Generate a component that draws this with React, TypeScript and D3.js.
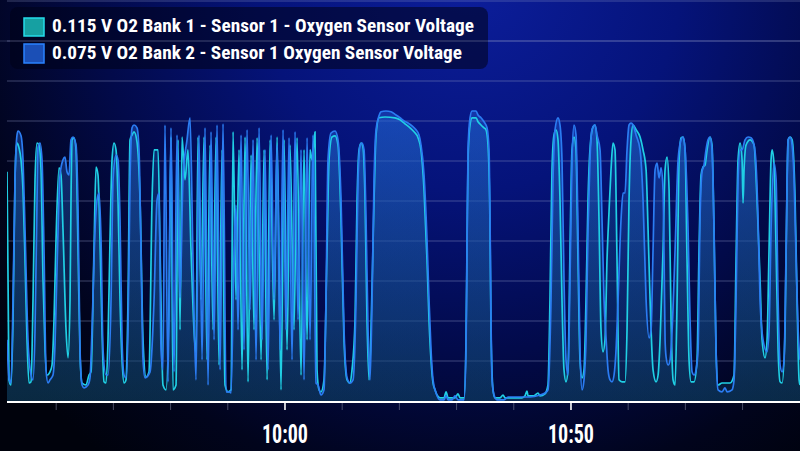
import React from "react"
import * as d3 from "d3"

const width = 800
const height = 451
const plot = {left: 7, right: 800, top: 1, bottom: 401}

const legendLabels = [
    "0.115 V O2 Bank 1 - Sensor 1 - Oxygen Sensor Voltage",
    "0.075 V O2 Bank 2 - Sensor 1 Oxygen Sensor Voltage",
]

// time axis: minutes after 9:00
const startMinute = 11.4
const endMinute = 150.04
const labelTicks = ["10:00", "10:50"]
const gridVolts = [0.1, 0.2, 0.3, 0.4, 0.5, 0.6, 0.7, 0.8, 0.9, 1.0]

// Bank 1 - Sensor 1 (cyan)
const bank1Minutes = [
    11.40, 11.75, 12.10, 12.45, 12.80, 12.98, 13.15, 13.50, 13.85, 14.20, 14.55, 14.90, 15.25, 15.60, 15.95, 16.30,
    16.65, 17.00, 17.35, 17.70, 18.05, 18.40, 18.92, 19.27, 19.62, 19.97, 20.49, 20.84, 21.19, 21.72, 22.07, 22.42,
    22.59, 22.77, 23.12, 23.47, 23.82, 24.17, 24.52, 25.21, 25.74, 26.09, 26.61, 26.96, 27.31, 27.66, 28.01, 28.36,
    28.71, 29.06, 29.41, 29.76, 30.11, 30.46, 30.81, 31.16, 31.51, 31.86, 32.21, 32.56, 32.91, 33.26, 33.61, 34.13,
    34.66, 35.18, 35.71, 36.23, 36.76, 37.11, 37.81,
    38.16, 38.67, 39.20, 39.73, 40.07, 40.42, 40.95, 41.30, 41.65, 42.00, 42.52, 43.04, 43.57, 44.44, 44.79, 45.32,
    45.85, 46.37, 46.90, 47.42, 47.95, 48.47, 49.00, 49.52, 50.04, 50.57, 50.92, 51.44, 51.97, 52.49, 53.02, 53.54,
    54.07, 54.59, 55.12, 55.82, 56.34, 56.87, 57.39, 58.09, 58.62, 59.31, 59.84, 60.36, 60.88, 61.58, 62.11, 62.81,
    63.33, 63.86, 64.38, 64.73, 65.25, 65.60, 65.95, 66.30,
    66.82, 67.35, 67.70, 68.22, 68.75, 69.27, 69.80, 70.32, 70.85, 71.37, 71.72, 72.25, 72.60, 72.95, 73.30, 73.65,
    74.00, 74.34, 74.69, 75.04, 75.57, 75.92, 76.44, 77.49, 79.24, 80.11, 80.98, 81.86, 82.56, 83.26, 83.78, 84.31,
    84.83, 85.18, 85.53, 85.88, 86.23, 86.58, 87.11, 87.81, 88.16, 88.51, 89.73, 90.25, 90.60, 91.30, 91.65, 91.83,
    92.00, 92.35, 92.70, 93.40, 93.75, 94.27, 94.80, 95.15, 95.50, 95.85, 96.02, 96.37, 96.72, 97.59, 98.12, 98.47,
    101.44, 101.96, 102.31, 102.49, 103.53, 104.23, 104.58, 105.46, 105.98, 106.33, 106.68, 107.03, 107.38, 107.73, 108.08, 108.43,
    108.78, 109.13, 109.48, 109.83, 110.18, 110.53, 110.88, 111.23, 111.58, 111.93, 112.28, 112.63, 112.98, 113.32, 113.85, 114.20,
    114.55, 114.90, 115.25, 115.60, 115.95, 116.30, 116.65, 117.00, 117.35, 117.70, 118.05, 118.40, 118.93, 119.45, 119.80, 120.15,
    120.50, 120.85, 121.38, 122.08, 122.60, 123.13, 123.48, 123.83, 124.35, 124.88, 125.23, 125.58, 126.10, 126.45, 126.80, 127.15,
    127.50, 127.85, 128.20, 128.55, 128.90, 129.25, 129.60, 129.95, 130.29, 130.64, 130.99, 131.52, 132.04, 132.39, 132.74, 133.09,
    133.44, 133.79, 134.31, 134.66, 135.01, 135.36, 135.71, 136.41, 137.11, 137.81, 138.51, 138.86, 139.21, 139.56, 139.91, 140.08,
    140.26, 140.61, 141.31, 142.01, 142.53, 143.06, 143.41, 143.93, 144.28, 144.63, 144.98, 145.16, 145.51, 145.86, 146.21, 146.56,
    146.91, 147.43, 147.78, 147.96, 148.31, 148.66, 149.18, 149.53, 149.88, 150.04,
]
const bank1Volts = [
    0.573, 0.053, 0.040, 0.203, 0.553, 0.628, 0.645, 0.633, 0.603, 0.528, 0.353, 0.153, 0.045, 0.048, 0.253, 0.553,
    0.645, 0.640, 0.578, 0.303, 0.128, 0.065, 0.073, 0.090, 0.203, 0.403, 0.583, 0.565, 0.428, 0.178, 0.108, 0.253,
    0.503, 0.653, 0.658, 0.628, 0.378, 0.115, 0.045, 0.040, 0.065, 0.073, 0.378, 0.585, 0.565, 0.403, 0.178, 0.048,
    0.045, 0.153, 0.403, 0.603, 0.645, 0.628, 0.503, 0.253, 0.103, 0.045, 0.053, 0.253, 0.653, 0.665, 0.673, 0.648,
    0.503, 0.153, 0.060, 0.073, 0.503, 0.628, 0.628,
    0.378, 0.040, 0.028, 0.253, 0.660, 0.028, 0.040, 0.653, 0.178, 0.660, 0.553, 0.628, 0.378, 0.120, 0.660, 0.253,
    0.660, 0.103, 0.640, 0.178, 0.660, 0.090, 0.628, 0.040, 0.023, 0.028, 0.673, 0.253, 0.628, 0.078, 0.660, 0.048,
    0.615, 0.178, 0.658, 0.103, 0.628, 0.053, 0.653, 0.203, 0.660, 0.028, 0.653, 0.128, 0.640, 0.178, 0.658, 0.065,
    0.628, 0.153, 0.628, 0.603, 0.673, 0.078, 0.028, 0.023,
    0.053, 0.378, 0.603, 0.660, 0.663, 0.640, 0.453, 0.153, 0.053, 0.045, 0.078, 0.203, 0.503, 0.628, 0.645, 0.633,
    0.503, 0.203, 0.053, 0.178, 0.503, 0.665, 0.708, 0.710, 0.708, 0.703, 0.693, 0.683, 0.673, 0.658, 0.628, 0.528,
    0.353, 0.203, 0.103, 0.045, 0.028, 0.015, 0.008, 0.008, 0.023, 0.008, 0.008, 0.018, 0.008, 0.008, 0.153, 0.403,
    0.603, 0.690, 0.708, 0.708, 0.698, 0.690, 0.683, 0.678, 0.640, 0.428, 0.178, 0.028, 0.008, 0.008, 0.015, 0.008,
    0.008, 0.013, 0.025, 0.013, 0.013, 0.020, 0.013, 0.018, 0.040, 0.253, 0.578, 0.665, 0.678, 0.653, 0.503, 0.253,
    0.078, 0.048, 0.078, 0.378, 0.628, 0.660, 0.628, 0.353, 0.103, 0.058, 0.078, 0.253, 0.503, 0.628, 0.685, 0.690,
    0.653, 0.453, 0.178, 0.123, 0.153, 0.353, 0.473, 0.578, 0.645, 0.628, 0.353, 0.053, 0.048, 0.048, 0.178, 0.503,
    0.653, 0.690, 0.678, 0.660, 0.628, 0.578, 0.428, 0.253, 0.078, 0.048, 0.065, 0.153, 0.378, 0.578, 0.610, 0.528,
    0.203, 0.053, 0.040, 0.253, 0.603, 0.658, 0.660, 0.628, 0.353, 0.103, 0.048, 0.048, 0.103, 0.378, 0.565, 0.585,
    0.590, 0.628, 0.660, 0.640, 0.428, 0.128, 0.040, 0.045, 0.045, 0.045, 0.065, 0.353, 0.603, 0.645, 0.603, 0.495,
    0.578, 0.640, 0.653, 0.640, 0.503, 0.303, 0.153, 0.108, 0.153, 0.378, 0.603, 0.628, 0.590, 0.378, 0.128, 0.048,
    0.045, 0.178, 0.553, 0.653, 0.660, 0.653, 0.503, 0.253, 0.053, 0.040,
]

// Bank 2 - Sensor 1 (blue)
const bank2Minutes = [
    11.40, 11.75, 12.10, 12.45, 12.80, 13.15, 13.33, 13.85, 14.20, 14.55, 15.07, 15.60, 15.95, 16.30, 16.65, 16.82,
    17.17, 17.52, 17.87, 18.22, 18.57, 18.92, 19.44, 19.79, 20.14, 20.67, 21.19, 21.54, 21.89, 22.24, 22.59, 22.94,
    23.47, 23.82, 24.17, 24.52, 24.87, 25.56, 25.91, 26.26, 26.79, 27.14, 27.49, 27.84, 28.19, 28.71, 29.06, 29.59,
    29.94, 30.46, 30.81, 31.16, 31.51, 31.86, 32.21, 32.56, 32.91, 33.26, 33.61, 34.13, 34.48, 34.83, 35.18, 35.53,
    36.41, 37.11, 37.63,
    37.98, 38.33, 38.67, 39.02, 39.55, 40.07, 40.60, 41.12, 41.65, 42.17, 42.87, 43.40, 43.92, 44.44, 44.97, 45.50,
    46.02, 46.55, 47.07, 47.60, 48.12, 48.65, 49.17, 49.70, 50.22, 50.57, 51.10, 51.44, 51.79, 52.32, 52.84, 53.37,
    53.89, 54.42, 54.94, 55.47, 55.99, 56.52, 57.04, 57.57, 58.09, 58.62, 59.14, 59.66, 60.18, 60.71, 61.23, 61.76,
    62.28, 62.81, 63.33, 63.86, 64.38, 64.90, 65.43, 65.78, 66.30,
    66.82, 67.17, 67.52, 68.05, 68.75,
    69.27, 69.80, 70.32, 70.85, 71.37, 71.90, 72.42, 72.77, 73.12, 73.47, 73.82, 74.17, 74.52, 74.87, 75.22, 75.57,
    75.92, 76.44, 76.79, 77.66, 78.54, 79.41, 80.11, 80.81, 81.51, 82.21, 82.91, 83.43, 83.78, 84.31, 84.83, 85.18,
    85.53, 85.88, 86.41, 87.11, 87.81, 88.16, 88.51, 89.21, 89.73, 90.25, 91.30, 91.65, 91.83, 92.00, 92.35, 92.70,
    93.40, 93.75, 94.27, 94.80, 95.32, 95.67, 95.85, 96.02, 96.20, 96.55, 97.07, 98.29, 98.99, 102.84, 104.58, 105.46,
    105.98, 106.51, 106.86, 107.21, 107.73, 108.08, 108.43, 108.78, 109.13, 109.48, 109.83, 110.18, 110.53, 110.88, 111.23, 111.58,
    111.93, 112.28, 112.63, 112.98, 113.32, 113.67, 114.20, 114.55, 115.08, 115.43, 115.78, 116.13, 116.48, 116.83, 117.18, 117.53,
    117.88, 118.23, 118.75, 119.10, 119.45, 119.80, 120.15, 120.50, 120.85, 121.38, 122.08, 122.60, 123.13, 123.65, 124.00, 124.35,
    124.70, 125.05, 125.40, 125.75, 126.10, 126.28, 126.45, 126.63, 126.98, 127.33, 127.68, 128.20, 128.73, 129.25, 129.60, 129.95,
    130.47, 130.82, 131.17, 131.52, 131.87, 132.22, 132.56, 132.91, 133.26, 133.61, 133.96, 134.31, 134.66, 135.01, 135.36, 135.71,
    136.41, 136.93, 137.28, 138.16, 138.51, 138.86, 139.21, 139.56, 139.91, 140.43, 140.96, 141.48, 142.01, 142.36, 142.71, 143.06,
    143.58, 144.28, 144.63, 144.98, 145.51, 145.86, 146.21, 146.56, 146.91, 147.26, 147.61, 147.96, 148.31, 148.66, 149.01, 149.36,
    149.71, 150.04,
]
const bank2Volts = [
    0.153, 0.058, 0.045, 0.253, 0.553, 0.665, 0.675, 0.663, 0.603, 0.428, 0.153, 0.065, 0.053, 0.178, 0.503, 0.633,
    0.645, 0.603, 0.378, 0.078, 0.045, 0.053, 0.065, 0.140, 0.328, 0.565, 0.603, 0.610, 0.573, 0.565, 0.653, 0.660,
    0.640, 0.478, 0.128, 0.040, 0.033, 0.040, 0.058, 0.178, 0.428, 0.503, 0.520, 0.403, 0.128, 0.065, 0.065, 0.253,
    0.553, 0.615, 0.603, 0.453, 0.153, 0.065, 0.058, 0.178, 0.553, 0.683, 0.690, 0.683, 0.628, 0.378, 0.103, 0.058,
    0.073, 0.253, 0.503,
    0.520, 0.128, 0.078, 0.690, 0.048, 0.683, 0.073, 0.665, 0.258, 0.560, 0.653, 0.708, 0.353, 0.053, 0.665, 0.103,
    0.683, 0.040, 0.673, 0.153, 0.690, 0.078, 0.693, 0.023, 0.023, 0.020, 0.378, 0.490, 0.178, 0.665, 0.128, 0.678,
    0.228, 0.653, 0.103, 0.683, 0.153, 0.628, 0.078, 0.665, 0.253, 0.640, 0.128, 0.678, 0.178, 0.658, 0.103, 0.673,
    0.203, 0.628, 0.053, 0.658, 0.153, 0.665, 0.045, 0.040, 0.015,
    0.028, 0.253, 0.603, 0.670, 0.675,
    0.653, 0.503, 0.178, 0.058, 0.045, 0.053, 0.253, 0.553, 0.638, 0.645, 0.628, 0.453, 0.178, 0.053, 0.253, 0.553,
    0.678, 0.713, 0.723, 0.725, 0.723, 0.715, 0.708, 0.700, 0.695, 0.688, 0.678, 0.665, 0.640, 0.565, 0.403, 0.253,
    0.128, 0.053, 0.020, 0.003, 0.003, 0.013, 0.003, 0.003, 0.013, 0.003, 0.003, 0.128, 0.378, 0.628, 0.708, 0.725,
    0.725, 0.715, 0.708, 0.698, 0.683, 0.628, 0.453, 0.203, 0.053, 0.015, 0.003, 0.003, 0.010, 0.010, 0.015, 0.020,
    0.028, 0.253, 0.553, 0.678, 0.708, 0.690, 0.603, 0.303, 0.103, 0.065, 0.303, 0.603, 0.690, 0.665, 0.428, 0.128,
    0.028, 0.053, 0.153, 0.428, 0.603, 0.678, 0.690, 0.665, 0.628, 0.453, 0.253, 0.158, 0.078, 0.053, 0.048, 0.065,
    0.128, 0.253, 0.453, 0.520, 0.520, 0.628, 0.690, 0.695, 0.690, 0.665, 0.628, 0.503, 0.253, 0.158, 0.178, 0.378,
    0.578, 0.595, 0.558, 0.583, 0.528, 0.353, 0.153, 0.110, 0.090, 0.103, 0.178, 0.378, 0.603, 0.653, 0.660, 0.628,
    0.428, 0.203, 0.073, 0.065, 0.078, 0.128, 0.453, 0.573, 0.590, 0.628, 0.653, 0.660, 0.628, 0.428, 0.128, 0.028,
    0.023, 0.033, 0.023, 0.028, 0.053, 0.253, 0.553, 0.628, 0.628, 0.653, 0.660, 0.658, 0.640, 0.590, 0.453, 0.253,
    0.153, 0.123, 0.178, 0.428, 0.595, 0.553, 0.253, 0.090, 0.073, 0.103, 0.378, 0.653, 0.660, 0.640, 0.553, 0.353,
    0.178, 0.103,
]

const baseDate = (minutes: number) => new Date(2020, 0, 1, 9, 0, 0, Math.round(minutes * 60000))
const parseClock = (s: string) => {
    const [h, m] = s.split(":").map(Number)
    return new Date(2020, 0, 1, h, m)
}

type Pt = {t: Date, v: number}
const toPoints = (mins: number[], volts: number[]): Pt[] =>
    mins.map((m, i) => ({t: baseDate(m), v: volts[i]}))

// bank 1 is painted first, bank 2 sits on top
const series = [
    {key: "b1", points: toPoints(bank1Minutes, bank1Volts), stroke: "#20cfe4", fillTop: "rgba(26,118,205,0.3)", fillBottom: "rgba(16,80,110,0.3)"},
    {key: "b2", points: toPoints(bank2Minutes, bank2Volts), stroke: "#2b7cf2", fillTop: "rgba(38,98,220,0.42)", fillBottom: "rgba(18,70,110,0.35)"},
]

const App = () => {
    const x = d3.scaleTime()
        .domain([baseDate(startMinute), baseDate(endMinute)])
        .range([plot.left, plot.right])
    const y = d3.scaleLinear().domain([0, 1]).range([plot.bottom, plot.top])

    const line = d3.line<Pt>().x(d => x(d.t)).y(d => y(d.v)).curve(d3.curveMonotoneX)
    const area = d3.area<Pt>().x(d => x(d.t)).y0(y(0)).y1(d => y(d.v)).curve(d3.curveMonotoneX)

    const minorTicks = x.ticks(d3.timeMinute.every(10)!).filter(t => x(t) < plot.right - 4)
    const majorTicks = labelTicks.map(parseClock)
    const font = "'Liberation Sans Narrow', 'Roboto Condensed', 'Arial Narrow', sans-serif"

    return (
        <svg width={width} height={height} viewBox={`0 0 ${width} ${height}`}
             style={{position: "absolute", left: 0, top: 0, display: "block"}}>
            <defs>
                <radialGradient id="bg" cx="470" cy="-20" r="600" gradientUnits="userSpaceOnUse">
                    <stop offset="0" stopColor="#0c1e9c"/>
                    <stop offset="0.35" stopColor="#05137a"/>
                    <stop offset="0.62" stopColor="#020a4a"/>
                    <stop offset="0.85" stopColor="#01041c"/>
                    <stop offset="1" stopColor="#00020c"/>
                </radialGradient>
                {series.map(s => (
                    <linearGradient key={s.key} id={`fill-${s.key}`} x1="0" y1="110" x2="0" y2={plot.bottom}
                                    gradientUnits="userSpaceOnUse">
                        <stop offset="0" stopColor={s.fillTop}/>
                        <stop offset="1" stopColor={s.fillBottom}/>
                    </linearGradient>
                ))}
                <clipPath id="plotClip">
                    <rect x={plot.left} y={0} width={plot.right - plot.left} height={plot.bottom}/>
                </clipPath>
            </defs>

            <rect width={width} height={height} fill="url(#bg)"/>

            {/* horizontal grid */}
            {gridVolts.map(v => (
                <line key={v} x1={plot.left} x2={plot.right} y1={y(v)} y2={y(v)}
                      stroke="rgba(150,160,200,0.28)" strokeWidth={1.4}/>
            ))}

            <g clipPath="url(#plotClip)">
                {series.map(s => (
                    <path key={s.key} d={area(s.points) ?? ""} fill={`url(#fill-${s.key})`}/>
                ))}
                {series.map(s => (
                    <path key={s.key} d={line(s.points) ?? ""} fill="none" stroke={s.stroke}
                          strokeWidth={1.7} strokeLinejoin="round"/>
                ))}
            </g>

            {/* x axis */}
            <line x1={plot.left} x2={plot.right} y1={plot.bottom + 1} y2={plot.bottom + 1} stroke="#ffffff" strokeWidth={2}/>
            {minorTicks.map(t => (
                <line key={+t} x1={x(t)} x2={x(t)} y1={plot.bottom + 2} y2={plot.bottom + 9}
                      stroke="rgba(120,125,150,0.6)" strokeWidth={1}/>
            ))}
            {majorTicks.map((t, i) => (
                <g key={i}>
                    <line x1={x(t)} x2={x(t)} y1={plot.bottom + 2} y2={plot.bottom + 9} stroke="#ffffff" strokeWidth={1.5}/>
                    <text x={x(t)} y={443} textAnchor="middle" fill="#ffffff" fontSize={25} fontWeight="bold"
                          fontFamily={font} textLength={46} lengthAdjust="spacingAndGlyphs">{labelTicks[i]}</text>
                </g>
            ))}

            {/* legend */}
            <rect x={10} y={7} width={478} height={62} rx={8} fill="rgba(0,2,24,0.55)"/>
            <line x1={0} x2={plot.right} y1={y(0.9)} y2={y(0.9)} stroke="rgba(150,160,200,0.28)" strokeWidth={1.2}/>
            <rect x={24} y={18} width={20} height={18} fill="#16a0a2" stroke="#25dcea" strokeWidth={1.5}/>
            <rect x={24} y={44} width={20} height={19} fill="#1b4fb6" stroke="#2a82ff" strokeWidth={1.5}/>
            {legendLabels.map((label, i) => (
                <text key={label} x={52} y={i === 0 ? 32 : 59} fill="#ffffff" fontSize={19} fontWeight="bold"
                      fontFamily={font} textLength={i === 0 ? 422 : 410} lengthAdjust="spacingAndGlyphs">{label}</text>
            ))}
        </svg>
    )
}

export default App
